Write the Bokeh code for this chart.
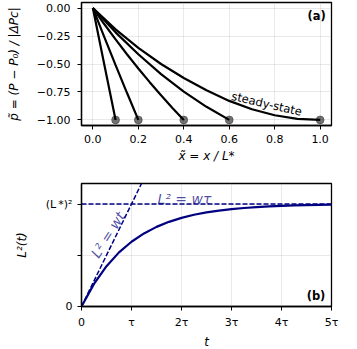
from bokeh.plotting import figure
from bokeh.layouts import column
from bokeh.models import FixedTicker, Label
from bokeh.embed import file_html
from bokeh.resources import INLINE

# ---------------- data: panel (a) pressure profiles ----------------
x_01 = [0.0, 0.05, 0.10]
p_01 = [0.0, -0.5025, -1.0]
x_02 = [0.0, 0.05, 0.10, 0.15, 0.20]
p_02 = [0.0, -0.2575, -0.51, -0.7575, -1.0]
x_04 = [0.0, 0.05, 0.10, 0.15, 0.20, 0.25, 0.30, 0.35, 0.40]
p_04 = [0.0, -0.1425, -0.28, -0.4125, -0.54, -0.6625, -0.78, -0.8925, -1.0]
x_06 = [0.0, 0.1, 0.2, 0.3, 0.4, 0.5, 0.6]
p_06 = [0.0, -0.217, -0.413, -0.59, -0.747, -0.883, -1.0]
x_ss = [0.0, 0.1, 0.2, 0.3, 0.4, 0.5, 0.6, 0.7, 0.8, 0.9, 1.0]
p_ss = [0.0, -0.19, -0.355, -0.50, -0.625, -0.735, -0.83, -0.905, -0.958, -0.99, -1.0]
front_x = [0.1, 0.2, 0.4, 0.6, 1.0]
front_p = [-1.0, -1.0, -1.0, -1.0, -1.0]

a_xticks = [0.0, 0.2, 0.4, 0.6, 0.8, 1.0]
a_xlabels = ["0.0", "0.2", "0.4", "0.6", "0.8", "1.0"]
a_yticks = [0.0, -0.25, -0.5, -0.75, -1.0]
a_ylabels = ["0.00", "\u22120.25", "\u22120.50", "\u22120.75", "\u22121.00"]

# ---------------- data: panel (b) L^2(t) ----------------
t_vals = [0.0, 0.25, 0.5, 0.75, 1.0, 1.25, 1.5, 1.75, 2.0, 2.25, 2.5,
          2.75, 3.0, 3.25, 3.5, 3.75, 4.0, 4.25, 4.5, 4.75, 5.0]
L2_vals = [0.0, 0.221, 0.393, 0.528, 0.632, 0.713, 0.777, 0.826, 0.865, 0.895, 0.918,
           0.936, 0.950, 0.961, 0.970, 0.976, 0.982, 0.986, 0.989, 0.991, 0.993]
wt_t = [0.0, 1.2]
wt_L2 = [0.0, 1.2]
plateau_t = [0.0, 5.0]
plateau_L2 = [1.0, 1.0]

b_xticks = [0, 1, 2, 3, 4, 5]
b_xlabels = ["0", "\u03c4", "2\u03c4", "3\u03c4", "4\u03c4", "5\u03c4"]
b_yticks = [0.0, 0.5, 1.0]
b_ylabels = ["0", "", "(L\u2009*)\u00b2"]

FONT = "DejaVu Sans"
NAVY = "#000080"


def style(p, xticks, xlabels, yticks, ylabels, ytick_standoff, ylab_standoff):
    p.xaxis.ticker = FixedTicker(ticks=xticks)
    p.yaxis.ticker = FixedTicker(ticks=yticks)
    p.xaxis.major_label_overrides = dict(zip(xticks, xlabels))
    p.yaxis.major_label_overrides = dict(zip(yticks, ylabels))
    for ax in (p.xaxis[0], p.yaxis[0]):
        ax.major_label_text_font = FONT
        ax.major_label_text_font_size = "11px"
        ax.major_label_text_color = "black"
        ax.axis_label_text_font = FONT
        ax.axis_label_text_font_size = "12px"
        ax.axis_label_text_font_style = "italic"
        ax.axis_label_text_color = "black"
        ax.major_tick_in = 0
        ax.major_tick_out = 4
        ax.major_tick_line_color = "black"
        ax.major_tick_line_width = 1
        ax.minor_tick_line_color = None
        ax.axis_line_color = "black"
        ax.axis_line_width = 1.3
    p.xaxis.major_label_standoff = 5
    p.yaxis.major_label_standoff = ytick_standoff
    p.xaxis.axis_label_standoff = 3
    p.yaxis.axis_label_standoff = ylab_standoff
    p.outline_line_color = "black"
    p.outline_line_width = 1.3
    p.outline_line_alpha = 1
    p.grid.grid_line_color = "#b0b0b0"
    p.grid.grid_line_alpha = 0.35
    p.grid.grid_line_width = 0.8
    p.background_fill_color = "white"
    p.border_fill_color = "white"


# ---------------- panel (a) ----------------
pa = figure(frame_width=250, frame_height=123,
            x_range=(-0.05, 1.05), y_range=(-1.05, 0.05),
            min_border_left=81, min_border_right=26, min_border_top=2, min_border_bottom=51,
            output_backend="svg", toolbar_location=None)
pa.xaxis.axis_label = "x\u0303 = x / L*"
pa.yaxis.axis_label = "p\u0303 = (P \u2212 P\u2080) / |\u0394Pc|"
style(pa, a_xticks, a_xlabels, a_yticks, a_ylabels, 7, 13)

for xs, ps in [(x_01, p_01), (x_02, p_02), (x_04, p_04), (x_06, p_06), (x_ss, p_ss)]:
    pa.line(xs, ps, line_color="black", line_width=2.2)
pa.scatter(front_x, front_p, size=8, fill_color="black", fill_alpha=0.55,
           line_color="black", line_alpha=0.3)

pa.add_layout(Label(x=0.765, y=-0.857, text="steady-state", angle=-0.227, angle_units="rad",
                    text_font=FONT, text_font_size="11.5px", text_color="black",
                    text_align="center", text_baseline="middle"))
pa.add_layout(Label(x=0.985, y=-0.07, text="(a)", text_font=FONT, text_font_size="11.5px",
                    text_font_style="bold", text_color="black",
                    text_align="center", text_baseline="middle"))

# ---------------- panel (b) ----------------
pb = figure(frame_width=250, frame_height=123,
            x_range=(0, 5), y_range=(0, 1.2),
            min_border_left=81, min_border_right=26, min_border_top=7, min_border_bottom=41,
            output_backend="svg", toolbar_location=None)
pb.xaxis.axis_label = "t"
pb.yaxis.axis_label = "L\u00b2(t)"
style(pb, b_xticks, b_xlabels, b_yticks, b_ylabels, 5, 14)

pb.line(plateau_t, plateau_L2, line_color=NAVY, line_width=1.5, line_dash="5 2")
pb.line(wt_t, wt_L2, line_color=NAVY, line_width=1.5, line_dash="5 2")
pb.line(t_vals, L2_vals, line_color=NAVY, line_width=2.2)

pb.add_layout(Label(x=0.53, y=0.70, text="L\u00b2 = wt", angle=1.01, angle_units="rad",
                    text_font=FONT, text_font_size="14px", text_font_style="italic",
                    text_color=NAVY, text_alpha=0.7,
                    text_align="center", text_baseline="middle"))
pb.add_layout(Label(x=1.52, y=1.045, text="L\u00b2 = w\u03c4",
                    text_font=FONT, text_font_size="14px", text_font_style="italic",
                    text_color=NAVY, text_alpha=0.7,
                    text_align="left", text_baseline="alphabetic"))
pb.add_layout(Label(x=4.69, y=0.105, text="(b)", text_font=FONT, text_font_size="11.5px",
                    text_font_style="bold", text_color="black",
                    text_align="center", text_baseline="middle"))

layout = column(pa, pb)
open("out.html", "w").write(file_html(layout, INLINE))
